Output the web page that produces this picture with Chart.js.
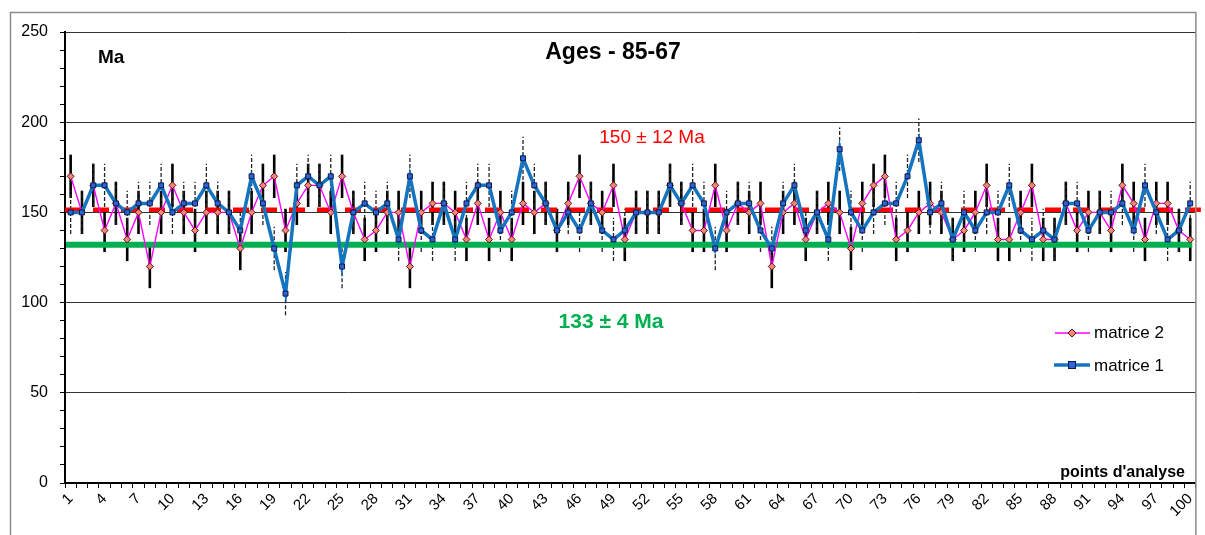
<!DOCTYPE html>
<html>
<head>
<meta charset="utf-8">
<script src="https://cdn.jsdelivr.net/npm/chart.js@4.4.0/dist/chart.umd.min.js"></script>
<style>
  html, body { margin: 0; padding: 0; background: #fff; }
</style>
</head>
<body>
<canvas id="chart" width="1205" height="535"></canvas>
<script>
// ========== DATA ==========
const points = Array.from({ length: 100 }, (_, i) => String(i + 1)); // points d'analyse 1..100
const shownLabels = [1, 4, 7, 10, 13, 16, 19, 22, 25, 28, 31, 34, 37, 40, 43, 46, 49, 52, 55, 58,
  61, 64, 67, 70, 73, 76, 79, 82, 85, 88, 91, 94, 97, 100];
const yLabels = [0, 50, 100, 150, 200, 250];

// matrice 1 (bleu, carrés) - ages en Ma
const matrice1 = [
  150, 150, 165, 165, 155, 150, 155, 155, 165, 150,
  155, 155, 165, 155, 150, 140, 170, 155, 130, 105,
  165, 170, 165, 170, 120, 150, 155, 150, 155, 135,
  170, 140, 135, 155, 135, 155, 165, 165, 140, 150,
  180, 165, 155, 140, 150, 140, 155, 140, 135, 140,
  150, 150, 150, 165, 155, 165, 155, 130, 150, 155,
  155, 140, 130, 155, 165, 140, 150, 135, 185, 150,
  140, 150, 155, 155, 170, 190, 150, 155, 135, 150,
  140, 150, 150, 165, 140, 135, 140, 135, 155, 155,
  140, 150, 150, 155, 140, 165, 150, 135, 140, 155
];

// matrice 2 (magenta, losanges)
const matrice2 = [
  170, 150, 165, 140, 155, 135, 150, 120, 150, 165,
  150, 140, 150, 150, 150, 130, 150, 165, 170, 140,
  155, 165, 165, 150, 170, 150, 135, 140, 150, 150,
  120, 150, 155, 155, 150, 135, 155, 135, 150, 135,
  155, 150, 155, 140, 155, 170, 155, 150, 165, 135,
  150, 150, 150, 165, 155, 140, 140, 165, 140, 155,
  150, 155, 120, 150, 155, 135, 150, 155, 150, 130,
  155, 165, 170, 135, 140, 150, 155, 150, 135, 140,
  150, 165, 135, 135, 150, 165, 135, 135, 155, 140,
  150, 150, 140, 165, 155, 135, 155, 155, 140, 135
];

const err1 = 12; // erreur matrice 1 (tirets)
const err2 = 12; // erreur matrice 2 (trait plein)

const meanAll = 151.5; // 150 ± 12 Ma
const meanLow = 132;   // 133 ± 4 Ma

// ========== DECOR PLUGIN ==========
const decor = {
  id: "decor",
  beforeDatasetsDraw(chart) {
    const { ctx, chartArea: a, scales: { x, y } } = chart;
    ctx.save();

    // error bars
    for (let i = 0; i < points.length; i++) {
      const px = x.getPixelForValue(i);
      ctx.setLineDash([]);
      ctx.strokeStyle = "#000";
      ctx.lineWidth = 2.6;
      ctx.beginPath();
      ctx.moveTo(px, y.getPixelForValue(matrice2[i] - err2));
      ctx.lineTo(px, y.getPixelForValue(matrice2[i] + err2));
      ctx.stroke();

      ctx.setLineDash([4, 2]);
      ctx.strokeStyle = "#222";
      ctx.lineWidth = 1.3;
      ctx.beginPath();
      ctx.moveTo(px, y.getPixelForValue(matrice1[i] - err1));
      ctx.lineTo(px, y.getPixelForValue(matrice1[i] + err1));
      ctx.stroke();
    }

    // 133 Ma line
    ctx.setLineDash([]);
    ctx.strokeStyle = "#00b050";
    ctx.lineWidth = 6;
    const yg = y.getPixelForValue(meanLow);
    ctx.beginPath();
    ctx.moveTo(a.left + 1, yg);
    ctx.lineTo(x.getPixelForValue(points.length - 1) + 2, yg);
    ctx.stroke();

    // 150 Ma dashed line
    ctx.setLineDash([16, 12]);
    ctx.strokeStyle = "#ff0000";
    ctx.lineWidth = 4.5;
    const yr = y.getPixelForValue(meanAll);
    ctx.beginPath();
    ctx.moveTo(a.left, yr);
    ctx.lineTo(a.right + 5, yr);
    ctx.stroke();

    ctx.restore();
  },
  afterDraw(chart) {
    const { ctx, chartArea: a } = chart;
    ctx.save();

    // frame
    ctx.strokeStyle = "#8c8c8c";
    ctx.lineWidth = 1.5;
    ctx.beginPath();
    ctx.moveTo(10.5, 535);
    ctx.lineTo(10.5, 12.5);
    ctx.lineTo(a.right, 12.5);
    ctx.moveTo(a.right, 12);
    ctx.lineTo(a.right, 535);
    ctx.stroke();

    ctx.fillStyle = "#000";
    ctx.textBaseline = "alphabetic";

    ctx.font = "bold 23px Arial, 'Liberation Sans'";
    ctx.textAlign = "center";
    ctx.fillText("Ages - 85-67", 613, 59);

    ctx.font = "bold 19px Arial, 'Liberation Sans'";
    ctx.textAlign = "left";
    ctx.fillText("Ma", 98, 63);

    ctx.fillStyle = "#ff0000";
    ctx.font = "19px Arial, 'Liberation Sans'";
    ctx.textAlign = "center";
    ctx.fillText("150 ± 12 Ma", 652, 143);

    ctx.fillStyle = "#00b050";
    ctx.font = "bold 21px Arial, 'Liberation Sans'";
    ctx.fillText("133 ± 4 Ma", 611, 328);

    ctx.fillStyle = "#000";
    ctx.font = "bold 16px Arial, 'Liberation Sans'";
    ctx.textAlign = "right";
    ctx.fillText("points d'analyse", 1185, 477);

    // legend
    ctx.strokeStyle = "#ff00ff";
    ctx.lineWidth = 1.5;
    ctx.beginPath();
    ctx.moveTo(1055, 333);
    ctx.lineTo(1090, 333);
    ctx.stroke();
    ctx.fillStyle = "#f5857a";
    ctx.strokeStyle = "#5a1010";
    ctx.lineWidth = 1;
    ctx.beginPath();
    ctx.moveTo(1072, 329);
    ctx.lineTo(1076, 333);
    ctx.lineTo(1072, 337);
    ctx.lineTo(1068, 333);
    ctx.closePath();
    ctx.fill();
    ctx.stroke();

    ctx.strokeStyle = "#1474c0";
    ctx.lineWidth = 3.5;
    ctx.beginPath();
    ctx.moveTo(1054, 365);
    ctx.lineTo(1090, 365);
    ctx.stroke();
    ctx.fillStyle = "#2e62d8";
    ctx.strokeStyle = "#0a1a40";
    ctx.lineWidth = 1;
    ctx.fillRect(1068.5, 361.5, 7, 7);
    ctx.strokeRect(1068.5, 361.5, 7, 7);

    ctx.fillStyle = "#000";
    ctx.font = "17px Arial, 'Liberation Sans'";
    ctx.textAlign = "left";
    ctx.textBaseline = "middle";
    ctx.fillText("matrice 2", 1094, 333);
    ctx.fillText("matrice 1", 1094, 366);

    ctx.restore();
  }
};

// ========== CHART ==========
new Chart(document.getElementById("chart"), {
  type: "line",
  data: {
    labels: points,
    datasets: [
      {
        label: "matrice 1",
        data: matrice1,
        borderColor: "#1474c0",
        borderWidth: 3.5,
        pointStyle: "rect",
        pointRadius: 3.5,
        pointBackgroundColor: "#2e62d8",
        pointBorderColor: "#0a1a40",
        pointBorderWidth: 1,
        tension: 0
      },
      {
        label: "matrice 2",
        data: matrice2,
        borderColor: "#ff00ff",
        borderWidth: 1.4,
        pointStyle: "rectRot",
        pointRadius: 3.5,
        pointBackgroundColor: "#f5857a",
        pointBorderColor: "#5a1010",
        pointBorderWidth: 1,
        tension: 0
      }
    ]
  },
  options: {
    responsive: false,
    animation: false,
    devicePixelRatio: 1,
    layout: { padding: { left: 10, top: 32, right: 9, bottom: 0 } },
    plugins: {
      legend: { display: false },
      tooltip: { enabled: false }
    },
    scales: {
      x: {
        offset: true,
        grid: {
          offset: true,
          drawOnChartArea: false,
          tickLength: 5,
          color: "#000",
          tickColor: "#000"
        },
        border: { color: "#000", width: 2 },
        ticks: {
          autoSkip: false,
          maxRotation: 45,
          minRotation: 45,
          padding: 2,
          color: "#000",
          font: { family: "Arial, 'Liberation Sans'", size: 15 },
          callback: (v, i) => shownLabels.includes(i + 1) ? points[i] : ""
        },
        afterFit: s => { s.height = 52; }
      },
      y: {
        min: 0,
        max: 250,
        grid: {
          color: c => (c.tick && yLabels.includes(c.tick.value)) ? "#333" : "rgba(0,0,0,0)",
          tickColor: "#000",
          tickLength: 5
        },
        border: { color: "#000", width: 2 },
        ticks: {
          stepSize: 10,
          autoSkip: false,
          padding: 12,
          color: "#000",
          font: { family: "Arial, 'Liberation Sans'", size: 16 },
          callback: v => yLabels.includes(v) ? v : ""
        },
        afterFit: s => { s.width = 55; }
      }
    }
  },
  plugins: [decor]
});
</script>
</body>
</html>
